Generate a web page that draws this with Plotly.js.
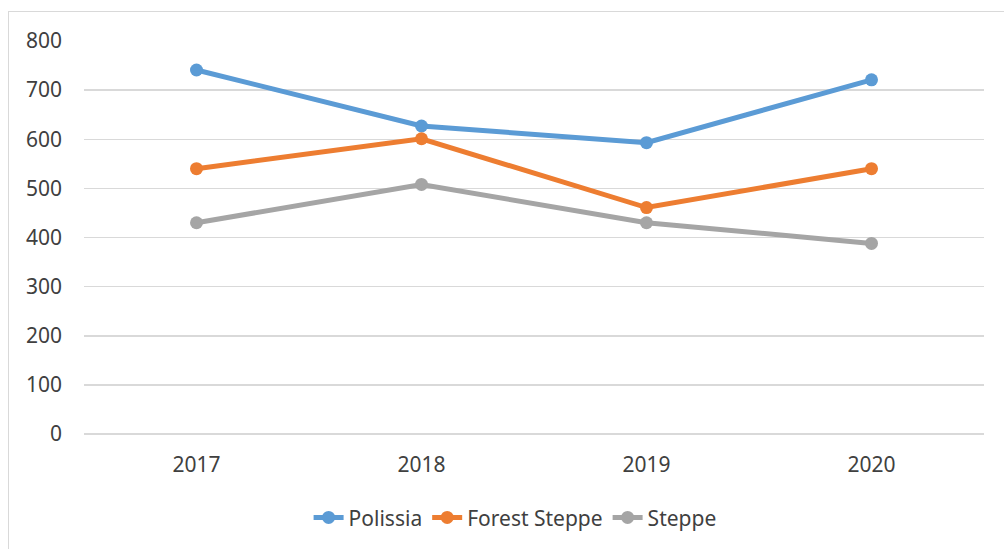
<!DOCTYPE html>
<html><head><meta charset="utf-8">
<script src="https://cdn.plot.ly/plotly-3.0.1.min.js"></script>
<style>
html,body{margin:0;padding:0;overflow:hidden;background:#fff;}
#frame{position:absolute;left:8px;top:11px;width:1100px;height:600px;border:1px solid #d9d9d9;box-sizing:border-box;}
#chart{position:absolute;left:0;top:0;width:1004px;height:549px;}
</style></head>
<body>
<div id="frame"></div>
<div id="chart"></div>
<script>
const years = ['2017', '2018', '2019', '2020'];
const polissia = [741, 627, 593, 721];
const forestSteppe = [540, 601, 461, 540];
const steppe = [430, 508, 430, 388];
const yTicks = [0, 100, 200, 300, 400, 500, 600, 700, 800];

function tr(name, y, color) {
  return {x: years, y: y, name: name, type: 'scatter', mode: 'lines+markers',
    line: {color: color, width: 5}, marker: {color: color, size: 13}};
}
const data = [
  tr('Polissia', polissia, '#5B9BD5'),
  tr('Forest Steppe', forestSteppe, '#ED7D31'),
  tr('Steppe', steppe, '#A5A5A5')
];
const layout = {
  width: 1004, height: 549,
  margin: {l: 84, r: 20, t: 41, b: 114},
  paper_bgcolor: 'rgba(0,0,0,0)', plot_bgcolor: 'rgba(0,0,0,0)',
  font: {family: 'Noto Sans, Liberation Sans, sans-serif', size: 21, color: '#404040'},
  showlegend: true,
  legend: {orientation: 'h', x: 0.479, xanchor: 'center', y: -0.21, yanchor: 'middle',
    font: {size: 21, color: '#404040'}, traceorder: 'normal', itemwidth: 30},
  xaxis: {type: 'category', range: [-0.5, 3.5], showgrid: false, zeroline: false,
    showline: false, ticks: '', ticklabelstandoff: 16, fixedrange: true},
  yaxis: {range: [0, 800], tickvals: yTicks, showgrid: true, gridcolor: '#d9d9d9', gridwidth: 1.5,
    zeroline: true, zerolinecolor: '#d9d9d9', zerolinewidth: 1.5, showline: false, ticks: '',
    ticklabelstandoff: 21, fixedrange: true}
};
Plotly.newPlot('chart', data, layout, {displayModeBar: false, staticPlot: true});
</script>
</body></html>
